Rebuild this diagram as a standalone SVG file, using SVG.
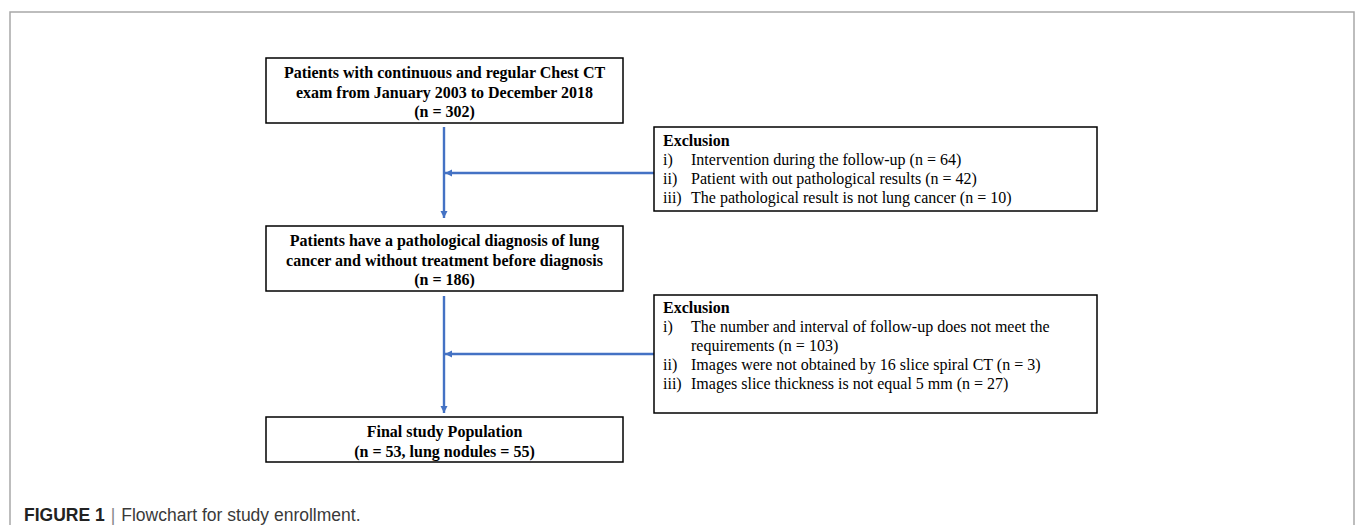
<svg xmlns="http://www.w3.org/2000/svg" width="1355" height="525" viewBox="0 0 1355 525">
<style>
.box{fill:#fff;stroke:#000;stroke-width:1.5}
.bt{font-family:"Liberation Serif","Times New Roman",serif;font-size:16px;font-weight:bold;fill:#000;text-anchor:middle}
.et{font-family:"Liberation Serif","Times New Roman",serif;font-size:16px;fill:#000}
.eb{font-weight:bold}
.conn{stroke:#4472C4;stroke-width:2.4;fill:none}
.cap{font-family:"Liberation Sans",Arial,sans-serif;font-size:17.5px;fill:#3a3a3a}
</style>
<defs>
<marker id="ah" markerUnits="userSpaceOnUse" markerWidth="9" markerHeight="9" refX="7" refY="4.5" orient="auto">
<path d="M0,1 L7,4.5 L0,8 Z" fill="#4472C4"/>
</marker>
</defs>
<rect width="1355" height="525" fill="#fff"/>
<path d="M10,525 V12 H1354 V525" fill="none" stroke="#a8a8a8" stroke-width="1.5"/>

<g id="connectors">
<line class="conn" x1="444" y1="127" x2="444" y2="218" marker-end="url(#ah)"/>
<line class="conn" x1="654" y1="173" x2="445" y2="173" marker-end="url(#ah)"/>
<line class="conn" x1="444" y1="296" x2="444" y2="413" marker-end="url(#ah)"/>
<line class="conn" x1="654" y1="354" x2="445" y2="354" marker-end="url(#ah)"/>
</g>

<g id="node-start">
<rect class="box" x="266" y="58" width="357" height="65"/>
<text class="bt" x="444.5" y="78">Patients with continuous and regular Chest CT</text>
<text class="bt" x="444.5" y="97.5">exam from January 2003 to December 2018</text>
<text class="bt" x="444.5" y="117">(n = 302)</text>
</g>

<g id="node-excl1">
<rect class="box" x="654" y="127" width="443" height="84"/>
<text class="et eb" x="663" y="146">Exclusion</text>
<text class="et" x="663" y="165">i)</text><text class="et" x="691" y="165">Intervention during the follow-up (n = 64)</text>
<text class="et" x="663" y="184">ii)</text><text class="et" x="691" y="184">Patient with out pathological results (n = 42)</text>
<text class="et" x="663" y="203">iii)</text><text class="et" x="691" y="203">The pathological result is not lung cancer (n = 10)</text>
</g>

<g id="node-diag">
<rect class="box" x="266" y="226" width="357" height="65"/>
<text class="bt" x="444.5" y="246">Patients have a pathological diagnosis of lung</text>
<text class="bt" x="444.5" y="265.5">cancer and without treatment before diagnosis</text>
<text class="bt" x="444.5" y="285">(n = 186)</text>
</g>

<g id="node-excl2">
<rect class="box" x="654" y="295" width="443" height="118"/>
<text class="et eb" x="663" y="313">Exclusion</text>
<text class="et" x="663" y="332">i)</text><text class="et" x="691" y="332">The number and interval of follow-up does not meet the</text>
<text class="et" x="691" y="351">requirements (n = 103)</text>
<text class="et" x="663" y="370">ii)</text><text class="et" x="691" y="370">Images were not obtained by 16 slice spiral CT (n = 3)</text>
<text class="et" x="663" y="389">iii)</text><text class="et" x="691" y="389">Images slice thickness is not equal 5 mm (n = 27)</text>
</g>

<g id="node-final">
<rect class="box" x="266" y="417" width="357" height="45"/>
<text class="bt" x="444.5" y="436.5">Final study Population</text>
<text class="bt" x="444.5" y="456.5">(n = 53, lung nodules = 55)</text>
</g>

<g id="caption">
<text class="cap" x="24" y="521"><tspan font-weight="bold" fill="#222">FIGURE 1</tspan><tspan fill="#888" dx="6">|</tspan><tspan dx="6">Flowchart for study enrollment.</tspan></text>
</g>
</svg>
